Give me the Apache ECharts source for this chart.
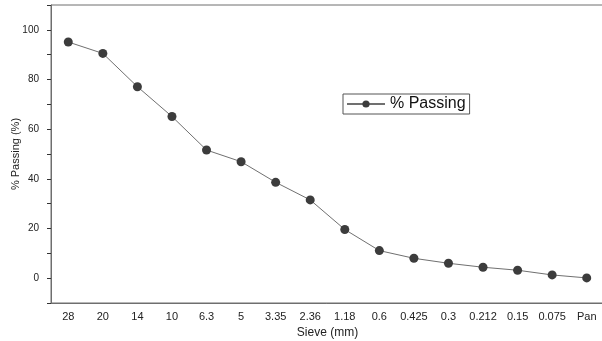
<!DOCTYPE html>
<html>
<head>
<meta charset="utf-8">
<script src="https://cdn.jsdelivr.net/npm/echarts@6/dist/echarts.min.js"></script>
<style>
  html, body { margin: 0; padding: 0; background: #fff; }
  #chart { width: 602px; height: 341px; }
</style>
</head>
<body>
<div id="chart"></div>
<script>
const sieves = ['28', '20', '14', '10', '6.3', '5', '3.35', '2.36', '1.18', '0.6', '0.425', '0.3', '0.212', '0.15', '0.075', 'Pan'];
const passing = [95.1, 90.5, 77.1, 65.1, 51.6, 46.9, 38.6, 31.5, 19.6, 11.1, 8.0, 6.0, 4.4, 3.2, 1.3, 0.1];

const chart = echarts.init(document.getElementById('chart'));
const axisColor = '#6e6e6e';
const font = 'Liberation Sans, Arial, sans-serif';

const option = {
  animation: false,
  backgroundColor: '#fff',
  grid: {
    left: 51,
    right: -2,
    top: 5,
    bottom: 38,
    outerBoundsMode: 'none',
    containLabel: false,
    show: true,
    borderColor: axisColor,
    borderWidth: 1
  },
  legend: {
    left: 343,
    top: 94,
    padding: [2, 4, 2, 3],
    borderColor: '#555',
    borderWidth: 1,
    itemWidth: 38,
    itemHeight: 9,
    textStyle: { fontSize: 16, color: '#111', fontFamily: font },
    data: ['% Passing']
  },
  xAxis: [
    {
      type: 'category',
      data: sieves,
      boundaryGap: true,
      name: 'Sieve (mm)',
      nameLocation: 'middle',
      nameGap: 24,
      nameTextStyle: { fontSize: 12, color: '#222', fontFamily: font },
      axisLine: { onZero: false, lineStyle: { color: axisColor } },
      axisTick: { alignWithLabel: true, length: 5, interval: 0, lineStyle: { color: '#333' } },
      axisLabel: { interval: 0, fontSize: 11, color: '#222', margin: 8, fontFamily: font },
      splitLine: { show: false }
    },
    {
      type: 'category',
      data: sieves,
      position: 'bottom',
      boundaryGap: true,
      axisLine: { show: false, onZero: false },
      axisTick: { length: 3, interval: 0, lineStyle: { color: '#333' } },
      axisLabel: { show: false },
      splitLine: { show: false }
    }
  ],
  yAxis: {
    type: 'value',
    min: -10,
    max: 110,
    interval: 10,
    name: '% Passing (%)',
    nameLocation: 'middle',
    nameGap: 30,
    nameMoveOverlap: false,
    nameTextStyle: { fontSize: 11, color: '#222', fontFamily: font },
    axisLine: { show: true, lineStyle: { color: axisColor } },
    axisTick: { show: true, length: 4, lineStyle: { color: '#333' } },
    axisLabel: {
      fontSize: 10,
      color: '#222',
      margin: 12,
      fontFamily: font,
      formatter: v => (v >= 0 && v <= 100 && v % 20 === 0) ? String(v) : ''
    },
    splitLine: { show: false }
  },
  series: [
    {
      name: '% Passing',
      type: 'line',
      data: passing,
      symbol: 'circle',
      symbolSize: 9,
      itemStyle: { color: '#3c3c3c' },
      lineStyle: { color: '#707070', width: 1 }
    }
  ]
};

chart.setOption(option);
</script>
</body>
</html>
